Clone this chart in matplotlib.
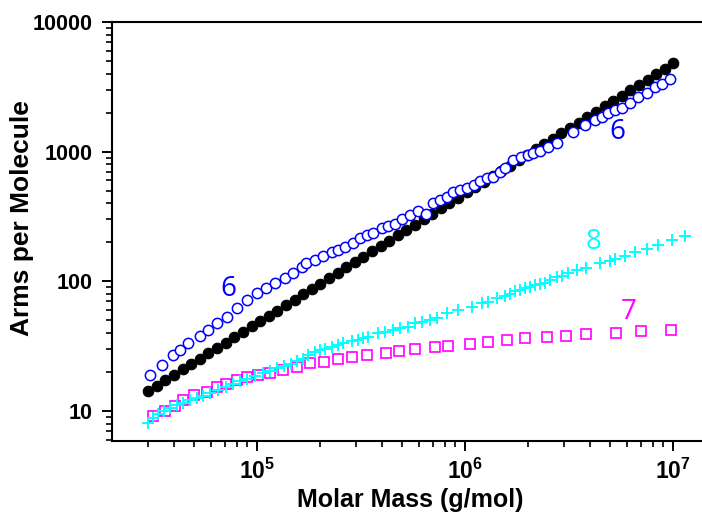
import matplotlib
matplotlib.use("Agg")
import matplotlib.pyplot as plt
from matplotlib.ticker import LogLocator, NullFormatter, FixedLocator

# ---- data ----
black_x = [3.00e4, 3.30e4, 3.63e4, 3.99e4, 4.39e4, 4.83e4, 5.31e4, 5.85e4, 6.43e4, 7.07e4,
           7.78e4, 8.56e4, 9.42e4, 1.04e5, 1.14e5, 1.25e5, 1.38e5, 1.52e5, 1.67e5, 1.83e5,
           2.02e5, 2.22e5, 2.44e5, 2.69e5, 2.95e5, 3.25e5, 3.58e5, 3.93e5, 4.33e5, 4.76e5,
           5.23e5, 5.76e5, 6.33e5, 6.97e5, 7.66e5, 8.43e5, 9.27e5, 1.02e6, 1.12e6, 1.23e6,
           1.36e6, 1.49e6, 1.64e6, 1.81e6, 1.99e6, 2.19e6, 2.41e6, 2.65e6, 2.91e6, 3.20e6,
           3.52e6, 3.88e6, 4.26e6, 4.69e6, 5.16e6, 5.67e6, 6.24e6, 6.87e6, 7.55e6, 8.31e6,
           9.14e6, 1.00e7]
black_y = [14.3, 15.7, 17.3, 19.0, 20.9, 23.0, 25.3, 27.9, 30.6, 33.7,
           37.0, 40.8, 44.9, 49.5, 54.3, 59.5, 65.7, 72.4, 79.5, 87.1,
           96.2, 106, 116, 128, 140, 155, 170, 187, 206, 227,
           249, 274, 301, 332, 365, 401, 441, 486, 533, 586,
           648, 710, 781, 862, 948, 1043, 1148, 1262, 1386, 1524,
           1676, 1848, 2029, 2233, 2457, 2700, 2971, 3271, 3595, 3957,
           4352, 4800]

blue_x = [3.06e4, 3.48e4, 3.96e4, 4.26e4, 4.68e4, 5.32e4, 5.83e4, 6.40e4, 7.15e4, 7.99e4,
          8.92e4, 9.97e4, 1.11e5, 1.22e5, 1.36e5, 1.49e5, 1.64e5, 1.73e5, 1.90e5, 2.08e5,
          2.29e5, 2.46e5, 2.65e5, 2.90e5, 3.13e5, 3.37e5, 3.62e5, 3.98e5, 4.28e5, 4.61e5,
          4.96e5, 5.44e5, 5.96e5, 6.49e5, 7.04e5, 7.58e5, 8.17e5, 8.79e5, 9.46e5, 1.02e6,
          1.10e6, 1.18e6, 1.27e6, 1.36e6, 1.47e6, 1.56e6, 1.71e6, 1.87e6, 2.02e6, 2.13e6,
          2.29e6, 2.52e6, 2.76e6, 3.32e6, 3.78e6, 4.22e6, 4.54e6, 4.89e6, 5.26e6, 5.67e6,
          6.21e6, 6.81e6, 7.48e6, 8.20e6, 8.83e6, 9.67e6]
blue_y = [19.0, 22.6, 27.0, 29.5, 33.3, 37.9, 42.1, 47.5, 53.4, 61.9,
          71.8, 80.8, 88.3, 96.5, 105.5, 115.3, 129.7, 137.7, 146.0, 156.7,
          169.1, 174.3, 184.9, 198.5, 214.6, 227.5, 234.5, 256.2, 267, 276.6,
          300.6, 324.5, 350.3, 328.6, 403.6, 423.6, 449.2, 490.8, 505.8, 521.2,
          552.7, 596.6, 622.4, 633.7, 699.8, 743, 861.5, 903.7, 941.5, 980.6,
          1016, 1079, 1171, 1424, 1604, 1753, 1859, 1974, 2093, 2180,
          2382, 2622, 2815, 3166, 3320, 3609]

cyan_x = [2.99e4, 3.16e4, 3.34e4, 3.57e4, 3.82e4, 4.12e4, 4.40e4, 4.76e4, 5.15e4, 5.50e4,
          5.94e4, 6.49e4, 7.10e4, 7.67e4, 8.29e4, 8.95e4, 9.78e4, 1.07e5, 1.155e5, 1.25e5,
          1.35e5, 1.46e5, 1.56e5, 1.66e5, 1.76e5, 1.90e5, 2.01e5, 2.12e5, 2.29e5, 2.45e5,
          2.59e5, 2.86e5, 3.06e5, 3.23e5, 3.42e5, 3.82e5, 4.12e5, 4.51e5, 4.87e5, 5.32e5,
          5.75e5, 6.21e5, 6.79e5, 7.33e5, 8.20e5, 9.25e5, 1.08e6, 1.21e6, 1.29e6, 1.42e6,
          1.56e6, 1.65e6, 1.74e6, 1.84e6, 1.94e6, 2.05e6, 2.17e6, 2.29e6, 2.42e6, 2.56e6,
          2.77e6, 2.93e6, 3.13e6, 3.46e6, 3.82e6, 4.46e6, 4.98e6, 5.26e6, 5.87e6, 6.57e6,
          7.50e6, 8.47e6, 9.89e6, 1.14e7]
cyan_y = [8.08, 8.83, 9.48, 10.0, 10.6, 11.1, 11.5, 12.2, 12.7, 13.1,
          13.8, 14.5, 15.3, 16.2, 16.9, 17.6, 18.5, 19.5, 20.3, 21.3,
          22.2, 23.2, 24.1, 25.4, 26.8, 28.5, 29.5, 30.3, 31.4, 32.3,
          33.3, 34.4, 35.3, 36.4, 37.4, 39.7, 40.9, 42.1, 43.4, 44.7,
          47.3, 48.8, 50.3, 51.8, 56.7, 60.1, 63.7, 67.7, 69.6, 73.9,
          77.0, 79.8, 84.2, 85.7, 88.3, 90.9, 93.7, 95.3, 96.5, 102.3,
          107.4, 109.9, 115.3, 122.2, 126.0, 137.7, 144.1, 147.7, 157.6, 167.3,
          176.5, 190.5, 208.2, 223.6]

magenta_x = [3.16e4, 3.61e4, 4.04e4, 4.40e4, 4.98e4, 5.75e4, 6.42e4, 7.10e4, 8.01e4, 9.00e4,
             1.01e5, 1.155e5, 1.33e5, 1.56e5, 1.80e5, 2.10e5, 2.45e5, 2.88e5, 3.37e5, 4.17e5,
             4.83e5, 5.75e5, 7.17e5, 8.31e5, 1.06e6, 1.29e6, 1.59e6, 1.94e6, 2.47e6, 3.06e6,
             3.82e6, 5.30e6, 7.00e6, 9.75e6]
magenta_y = [9.15, 10.0, 11.0, 12.2, 13.2, 14.1, 15.2, 16.2, 17.2, 18.3,
             19.0, 19.6, 20.8, 22.0, 23.4, 24.0, 25.0, 25.9, 27.0, 28.2,
             29.2, 30.1, 31.0, 31.9, 33.0, 33.9, 35.0, 36.4, 37.4, 38.1,
             39.2, 40.2, 41.4, 42.1]

labels = ["6", "6", "8", "7"]
label_x = [7.26e4, 5.38e6, 4.17e6, 6.14e6]
label_y = [87, 1416, 201, 58]
label_colors = ["#0000ff", "#0000ff", "#00ffff", "#ff00ff"]

x_ticks = [1e5, 1e6, 1e7]
x_ticklabels = [r"$\mathbf{10^{5}}$", r"$\mathbf{10^{6}}$", r"$\mathbf{10^{7}}$"]
y_ticks = [10, 100, 1000, 10000]
y_ticklabels = ["10", "100", "1000", "10000"]

# ---- figure ----
plt.rcParams['font.family'] = ['Liberation Sans', 'DejaVu Sans']
plt.rcParams['mathtext.fontset'] = 'custom'
plt.rcParams['mathtext.bf'] = 'Liberation Sans:bold'
plt.rcParams['mathtext.rm'] = 'Liberation Sans'

fig = plt.figure(figsize=(7.02, 5.15), dpi=100)
ax = fig.add_axes([112/702, (515-441)/515, (702-112)/702, (441-22)/515])

ax.plot(black_x, black_y, linestyle='none', marker='o', markersize=7.6,
        markerfacecolor='black', markeredgecolor='black', markeredgewidth=0.8, zorder=3)
ax.plot(blue_x, blue_y, linestyle='none', marker='o', markersize=7.4,
        markerfacecolor='white', markeredgecolor='#0000ff', markeredgewidth=1.1, zorder=4)
ax.plot(magenta_x, magenta_y, linestyle='none', marker='s', markersize=6.8,
        markerfacecolor='none', markeredgecolor='#ff00ff', markeredgewidth=1.2, zorder=4)
ax.plot(cyan_x, cyan_y, linestyle='none', marker='+', markersize=8.2,
        markeredgecolor='#00ffff', markeredgewidth=1.4, zorder=5)

for t, lx, ly, c in zip(labels, label_x, label_y, label_colors):
    ax.text(lx, ly, t, color=c, fontsize=20, family=['Open Sans', 'DejaVu Sans'],
            ha='center', va='center', zorder=6)

ax.set_xscale('log')
ax.set_yscale('log')
ax.set_xlim(2.01e4, 1.38e7)
ax.set_ylim(5.87, 10000)

ax.xaxis.set_major_locator(FixedLocator(x_ticks))
ax.set_xticklabels(x_ticklabels)
ax.yaxis.set_major_locator(FixedLocator(y_ticks))
ax.set_yticklabels(y_ticklabels)
ax.xaxis.set_minor_locator(LogLocator(base=10, subs=range(2, 10)))
ax.yaxis.set_minor_locator(LogLocator(base=10, subs=range(2, 10)))
ax.xaxis.set_minor_formatter(NullFormatter())
ax.yaxis.set_minor_formatter(NullFormatter())

for lab in ax.get_yticklabels():
    lab.set_fontweight('bold')
ax.tick_params(axis='y', which='major', labelsize=15.5, length=7, width=1.4, direction='out', pad=7)
ax.tick_params(axis='x', which='major', labelsize=16.5, length=7, width=1.4, direction='out', pad=6)
ax.tick_params(which='minor', length=4, width=1.2, direction='out')
ax.tick_params(top=False, right=False, which='both')

for s in ['left', 'top', 'bottom']:
    ax.spines[s].set_linewidth(1.5)
ax.spines['right'].set_visible(False)

ax.set_ylabel('Arms per Molecule', fontsize=19, fontweight='bold')
ax.yaxis.set_label_coords(-0.132, 0.532)
ax.set_xlabel('Molar Mass (g/mol)', fontsize=18, fontweight='bold')
ax.xaxis.set_label_coords(0.505, -0.113)

fig.savefig('out.png', dpi=100)
